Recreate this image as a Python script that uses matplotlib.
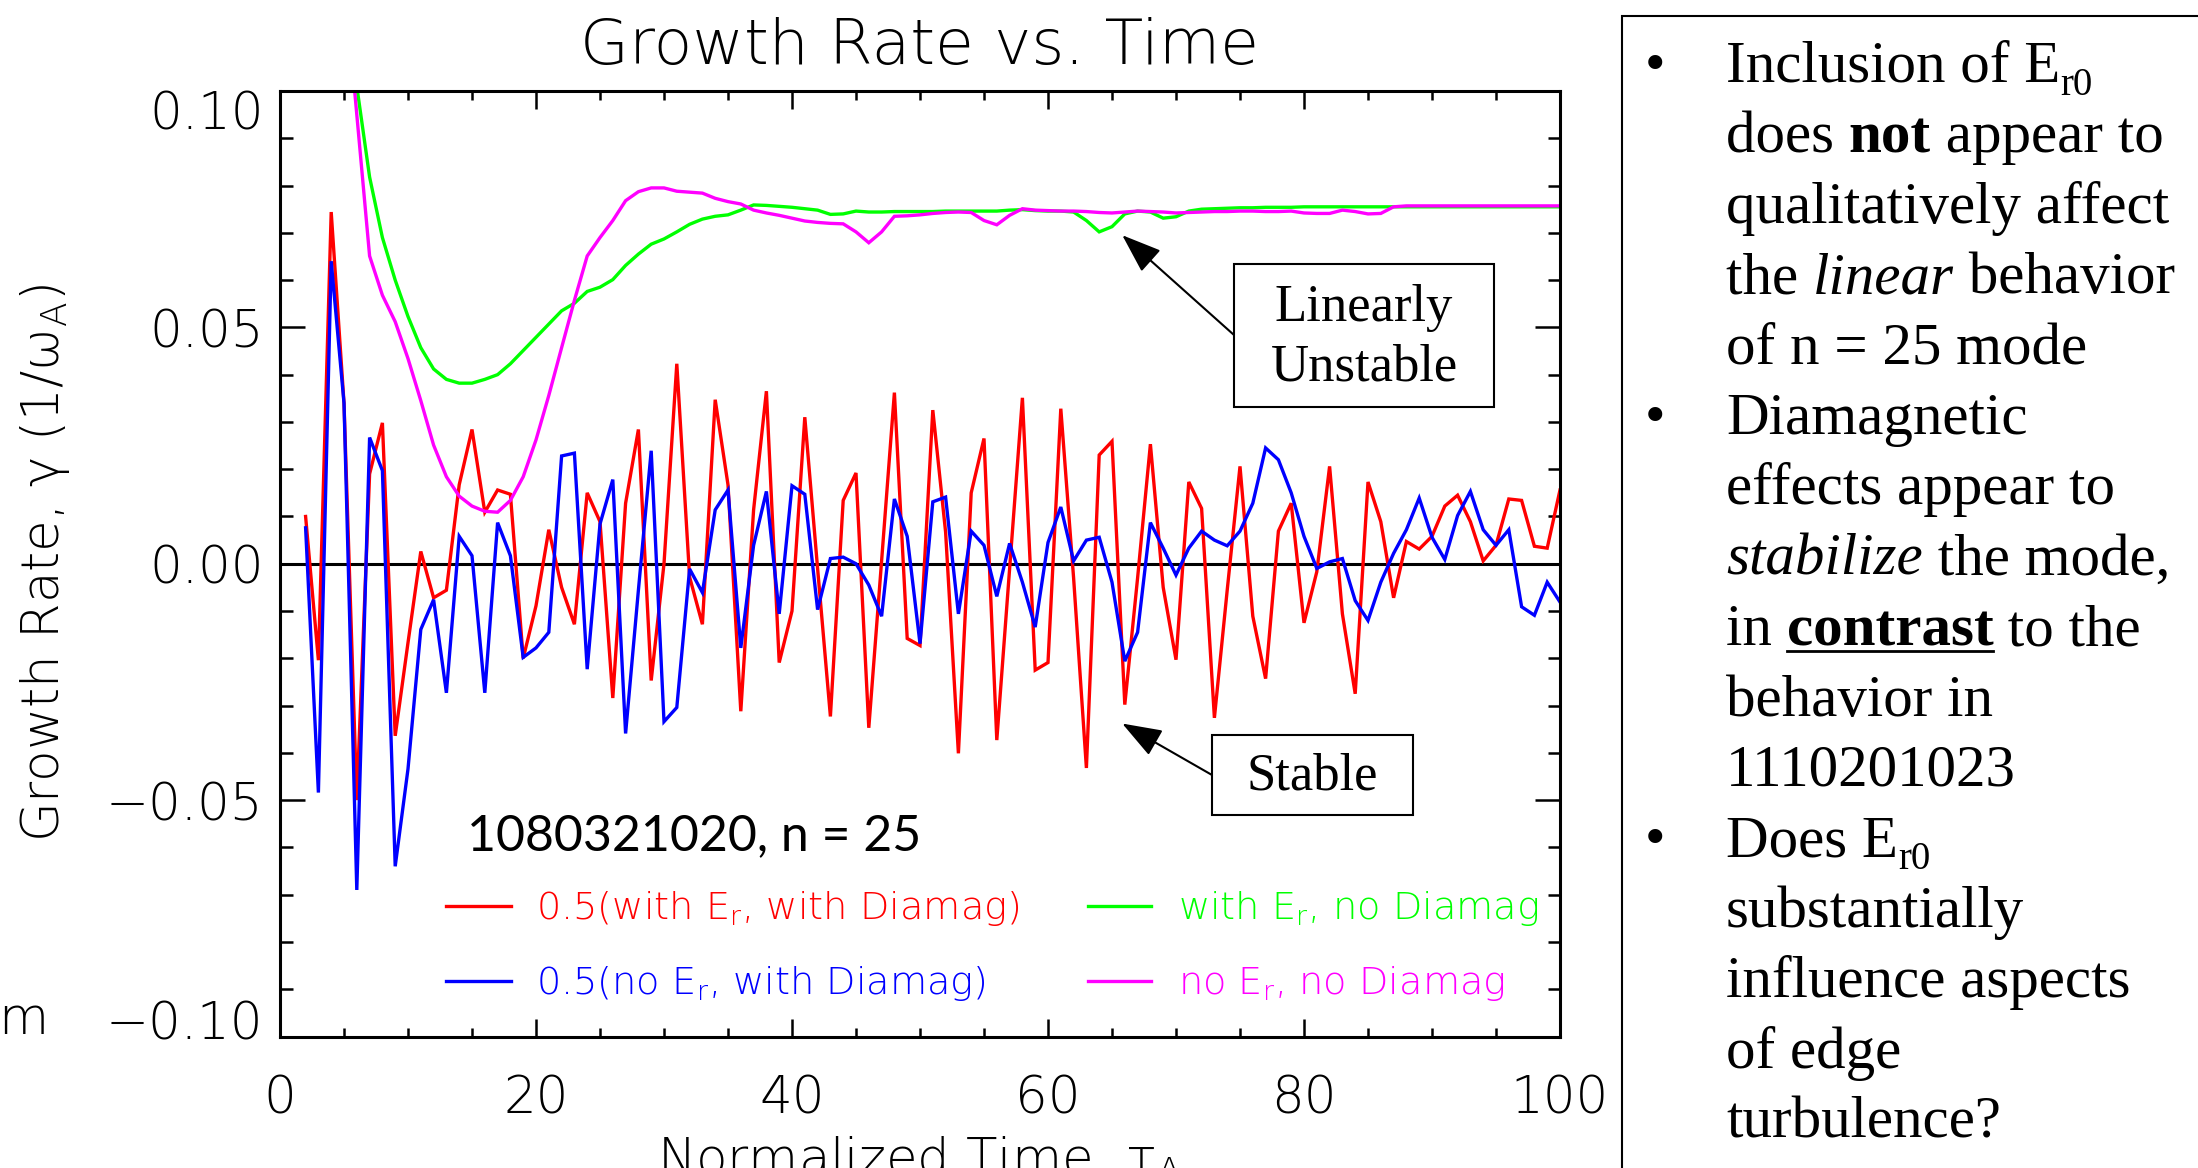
import matplotlib
matplotlib.use("Agg")
import matplotlib.pyplot as plt
from matplotlib.font_manager import FontProperties
from matplotlib.patches import Rectangle
from matplotlib.lines import Line2D
from matplotlib.ticker import MultipleLocator
from matplotlib.transforms import ScaledTranslation

W, H = 2198, 1168

# time axis (normalized time, one sample per unit)
t = list(range(2, 101))

red = [0.0100, -0.0204, 0.0744, 0.0340, -0.0500, 0.0190, 0.0298, -0.0364, -0.0167, 0.0026,
       -0.0072, -0.0056, 0.0167, 0.0284, 0.0109, 0.0156, 0.0147, -0.0200, -0.0089, 0.0072,
       -0.0050, -0.0128, 0.0150, 0.0089, -0.0284, 0.0128, 0.0284, -0.0247, 0.0000, 0.0423,
       -0.0028, -0.0128, 0.0347, 0.0167, -0.0312, 0.0114, 0.0365, -0.0209, -0.0100, 0.0310,
       -0.0010, -0.0323, 0.0134, 0.0192, -0.0347, 0.0006, 0.0362, -0.0158, -0.0173, 0.0325,
       0.0067, -0.0401, 0.0150, 0.0265, -0.0373, -0.0011, 0.0351, -0.0225, -0.0209, 0.0328,
       -0.0030, -0.0432, 0.0230, 0.0259, -0.0298, -0.0030, 0.0253, -0.0050, -0.0203, 0.0173,
       0.0117, -0.0326, -0.0056, 0.0206, -0.0111, -0.0243, 0.0069, 0.0128, -0.0125, -0.0017,
       0.0206, -0.0106, -0.0275, 0.0173, 0.0089, -0.0072, 0.0047, 0.0031, 0.0058, 0.0122,
       0.0145, 0.0089, 0.0006, 0.0039, 0.0137, 0.0134, 0.0037, 0.0033, 0.0156]

blue = [0.0076, -0.0484, 0.0640, 0.0340, -0.0690, 0.0267, 0.0197, -0.0640, -0.0434, -0.0139,
        -0.0076, -0.0273, 0.0058, 0.0017, -0.0273, 0.0087, 0.0017, -0.0198, -0.0178, -0.0145,
        0.0228, 0.0234, -0.0223, 0.0084, 0.0178, -0.0359, -0.0056, 0.0239, -0.0334, -0.0304,
        -0.0011, -0.0061, 0.0114, 0.0156, -0.0178, 0.0039, 0.0153, -0.0106, 0.0165, 0.0147,
        -0.0097, 0.0011, 0.0014, 0.0000, -0.0045, -0.0111, 0.0137, 0.0058, -0.0169, 0.0131,
        0.0141, -0.0106, 0.0069, 0.0039, -0.0069, 0.0043, -0.0039, -0.0134, 0.0045, 0.0120,
        0.0006, 0.0050, 0.0056, -0.0039, -0.0206, -0.0145, 0.0087, 0.0033, -0.0024, 0.0033,
        0.0069, 0.0050, 0.0038, 0.0069, 0.0128, 0.0245, 0.0220, 0.0150, 0.0058, -0.0010,
        0.0004, 0.0011, -0.0078, -0.0120, -0.0039, 0.0022, 0.0072, 0.0139, 0.0056, 0.0009,
        0.0102, 0.0153, 0.0072, 0.0039, 0.0072, -0.0091, -0.0109, -0.0039, -0.0081]

green = [0.2600, 0.2100, 0.1700, 0.1300, 0.1010, 0.0818, 0.0690, 0.0600, 0.0523, 0.0457,
         0.0412, 0.0390, 0.0382, 0.0382, 0.0390, 0.0400, 0.0423, 0.0451, 0.0479, 0.0507,
         0.0535, 0.0551, 0.0576, 0.0585, 0.0601, 0.0631, 0.0655, 0.0676, 0.0687, 0.0702,
         0.0718, 0.0729, 0.0735, 0.0738, 0.0748, 0.0759, 0.0758, 0.0756, 0.0754, 0.0751,
         0.0748, 0.0739, 0.0740, 0.0746, 0.0744, 0.0744, 0.0745, 0.0745, 0.0745, 0.0745,
         0.0746, 0.0746, 0.0746, 0.0746, 0.0746, 0.0748, 0.0749, 0.0747, 0.0746, 0.0746,
         0.0744, 0.0726, 0.0702, 0.0713, 0.0740, 0.0746, 0.0744, 0.0731, 0.0734, 0.0746,
         0.0750, 0.0751, 0.0752, 0.0753, 0.0753, 0.0754, 0.0754, 0.0754, 0.0755, 0.0755,
         0.0755, 0.0755, 0.0755, 0.0755, 0.0755, 0.0755, 0.0755, 0.0755, 0.0755, 0.0755,
         0.0755, 0.0755, 0.0755, 0.0755, 0.0755, 0.0755, 0.0755, 0.0755, 0.0755]

magenta = [0.2800, 0.2200, 0.1700, 0.1250, 0.0950, 0.0651, 0.0568, 0.0512, 0.0434, 0.0345,
           0.0251, 0.0184, 0.0143, 0.0122, 0.0111, 0.0109, 0.0134, 0.0184, 0.0262, 0.0356,
           0.0457, 0.0557, 0.0651, 0.0690, 0.0726, 0.0768, 0.0787, 0.0795, 0.0795, 0.0788,
           0.0786, 0.0784, 0.0773, 0.0766, 0.0761, 0.0748, 0.0742, 0.0737, 0.0731, 0.0725,
           0.0722, 0.0720, 0.0719, 0.0702, 0.0679, 0.0702, 0.0735, 0.0736, 0.0738, 0.0741,
           0.0743, 0.0744, 0.0743, 0.0726, 0.0717, 0.0737, 0.0751, 0.0748, 0.0747, 0.0746,
           0.0746, 0.0745, 0.0743, 0.0742, 0.0744, 0.0746, 0.0745, 0.0744, 0.0742, 0.0743,
           0.0744, 0.0745, 0.0745, 0.0746, 0.0746, 0.0745, 0.0745, 0.0746, 0.0742, 0.0741,
           0.0741, 0.0748, 0.0745, 0.0740, 0.0741, 0.0755, 0.0757, 0.0757, 0.0757, 0.0757,
           0.0757, 0.0757, 0.0757, 0.0757, 0.0757, 0.0757, 0.0757, 0.0757, 0.0757]

series_labels = ["0.5(with E$_\\mathregular{r}$, with Diamag)",
                 "0.5(no E$_\\mathregular{r}$, with Diamag)",
                 "with E$_\\mathregular{r}$, no Diamag",
                 "no E$_\\mathregular{r}$, no Diamag"]
series_colors = ["#ff0000", "#0000ff", "#00ff00", "#ff00ff"]

xticks = [0, 20, 40, 60, 80, 100]
yticks = [-0.10, -0.05, 0.00, 0.05, 0.10]
ytick_labels = ["\u22120.10", "\u22120.05", "0.00", "0.05", "0.10"]

IDL = "DejaVu Sans"
SERIF = "Liberation Serif"


def fx(px):
    return px / W


def fy(py):
    return 1 - py / H


fig = plt.figure(figsize=(W / 100, H / 100), dpi=100)
fig.patch.set_facecolor("white")

ax = fig.add_axes([fx(280), fy(1036.5), 1280 / W, (1036.5 - 91) / H])
for y, c in zip([red, blue, green, magenta], series_colors):
    ax.plot(t, y, color=c, lw=2.4, solid_joinstyle="miter")
ax.axhline(0, color="k", lw=2.2, zorder=1)

ax.set_xlim(0, 100)
ax.set_ylim(-0.1, 0.1)
ax.set_xticks(xticks)
ax.set_yticks(yticks)
ax.xaxis.set_minor_locator(MultipleLocator(5))
ax.yaxis.set_minor_locator(MultipleLocator(0.01))
ax.tick_params(which="both", direction="in", top=True, right=True,
               labelbottom=False, labelleft=False, width=1.8, color="k")
ax.tick_params(axis="x", which="major", length=13)
ax.tick_params(axis="x", which="minor", length=6.5)
ax.tick_params(axis="y", which="major", length=18)
ax.tick_params(axis="y", which="minor", length=9)
for s in ax.spines.values():
    s.set_linewidth(2.2)

# tick labels (IDL places the end labels inside the axis range)
for v in xticks:
    ax.text(v, 0, str(v), transform=ax.get_xaxis_transform() +
            ScaledTranslation(0, -0.775, fig.dpi_scale_trans),
            ha="center", va="baseline", fontsize=37, family=IDL, weight="light")
shift = {0.10: -0.38, -0.10: -0.035}
for v, lab in zip(yticks, ytick_labels):
    dy = shift.get(round(v, 2), -0.20)
    ax.text(0, v, lab, transform=ax.get_yaxis_transform() +
            ScaledTranslation(-0.165, dy, fig.dpi_scale_trans),
            ha="right", va="baseline", fontsize=37, family=IDL, weight="light")

fig.text(fx(920), fy(64), "Growth Rate vs. Time", ha="center", va="baseline",
         fontsize=45.5, family=IDL, weight="light")
fig.text(fx(45), fy(563), "Growth Rate, \u03b3 (1/\u03c9$_\\mathregular{A}$)", rotation=90,
         ha="center", va="center", fontsize=37, family=IDL, weight="light")
fig.text(fx(920), fy(1176), "Normalized Time, \u03c4$_\\mathregular{A}$", ha="center",
         va="baseline", fontsize=37, family=IDL, weight="light")
fig.text(fx(-2), fy(1020), "m", ha="left", va="center", fontsize=37, family=IDL,
         weight="light")

# in-plot labels
fig.text(fx(467), fy(850), "1080321020, n = 25", ha="left", va="baseline",
         fontsize=36, family="Lato")
legend_pos = [(446, 511, 536, 906), (446, 511, 536, 981),
              (1088, 1151, 1178, 906), (1088, 1151, 1178, 981)]
for lab, c, (x0, x1, xt, yl) in zip(series_labels, series_colors, legend_pos):
    fig.add_artist(Line2D([fx(x0), fx(x1)], [fy(yl), fy(yl)], color=c, lw=2.4,
                          transform=fig.transFigure))
    fig.text(fx(xt), fy(yl + 13), lab, color=c, ha="left", va="baseline",
             fontsize=27.5, family=IDL, weight="light")

# annotation boxes with arrows
for (l, tp, r, b), txt in [((1234, 264, 1494, 407), "Linearly\nUnstable"),
                           ((1212, 735, 1413, 815), "Stable")]:
    fig.add_artist(Rectangle((fx(l), fy(b)), (r - l) / W, (b - tp) / H, fill=False,
                             ec="k", lw=1.5, transform=fig.transFigure))
    fig.text(fx((l + r) / 2), fy((tp + b) / 2 + 2), txt, ha="center", va="center",
             fontsize=38, family=SERIF, linespacing=1.3)
for tip, tail in [((65.8, 0.0695), (1234, 335)), ((65.8, -0.0338), (1212, 775))]:
    ax.annotate("", xy=tip, xycoords="data", xytext=(fx(tail[0]), fy(tail[1])),
                textcoords="figure fraction",
                arrowprops=dict(arrowstyle="-|>,head_length=0.55,head_width=0.2",
                                mutation_scale=45, lw=1.5, color="k",
                                shrinkA=0, shrinkB=0))

# right-hand text panel
fig.add_artist(Rectangle((fx(1622), -0.1), 1.0, 1.1 - 16 / H, fill=False, ec="k",
                         lw=1.5, transform=fig.transFigure))
# run styles: n normal, b bold, i italic, U bold underlined, s subscript
panel_lines = [
    [("Inclusion of E", "n"), ("r0", "s")],
    [("does ", "n"), ("not", "b"), (" appear to", "n")],
    [("qualitatively affect", "n")],
    [("the ", "n"), ("linear", "i"), (" behavior", "n")],
    [("of n = 25 mode", "n")],
    [("Diamagnetic", "n")],
    [("effects appear to", "n")],
    [("stabilize", "i"), (" the mode,", "n")],
    [("in ", "n"), ("contrast", "U"), (" to the", "n")],
    [("behavior in", "n")],
    [("1110201023", "n")],
    [("Does E", "n"), ("r0", "s")],
    [("substantially", "n")],
    [("influence aspects", "n")],
    [("of edge", "n")],
    [("turbulence?", "n")],
]
bullet_rows = [0, 5, 11]

renderer = fig.canvas.get_renderer()


def text_w(s, fp):
    w1 = renderer.get_text_width_height_descent("|" + s + "|", fp, ismath=False)[0]
    w0 = renderer.get_text_width_height_descent("||", fp, ismath=False)[0]
    return w1 - w0


for i, runs in enumerate(panel_lines):
    base = 82 + 70.4 * i
    if i in bullet_rows:
        fig.text(fx(1655), fy(base), "\u2022", ha="center", va="baseline",
                 fontsize=42.5, family=SERIF)
    x = 1726
    for s, st in runs:
        fp = FontProperties(family=SERIF, size=28 if st == "s" else 42.5,
                            weight="bold" if st in ("b", "U") else "normal",
                            style="italic" if st == "i" else "normal")
        dy = 13 if st == "s" else 0
        fig.text(fx(x), fy(base + dy), s, fontproperties=fp, ha="left", va="baseline")
        w = text_w(s, fp)
        if st == "U":
            fig.add_artist(Line2D([fx(x), fx(x + w)], [fy(base + 6), fy(base + 6)],
                                  color="k", lw=2, transform=fig.transFigure))
        x += w

fig.savefig("out.png", dpi=100)
